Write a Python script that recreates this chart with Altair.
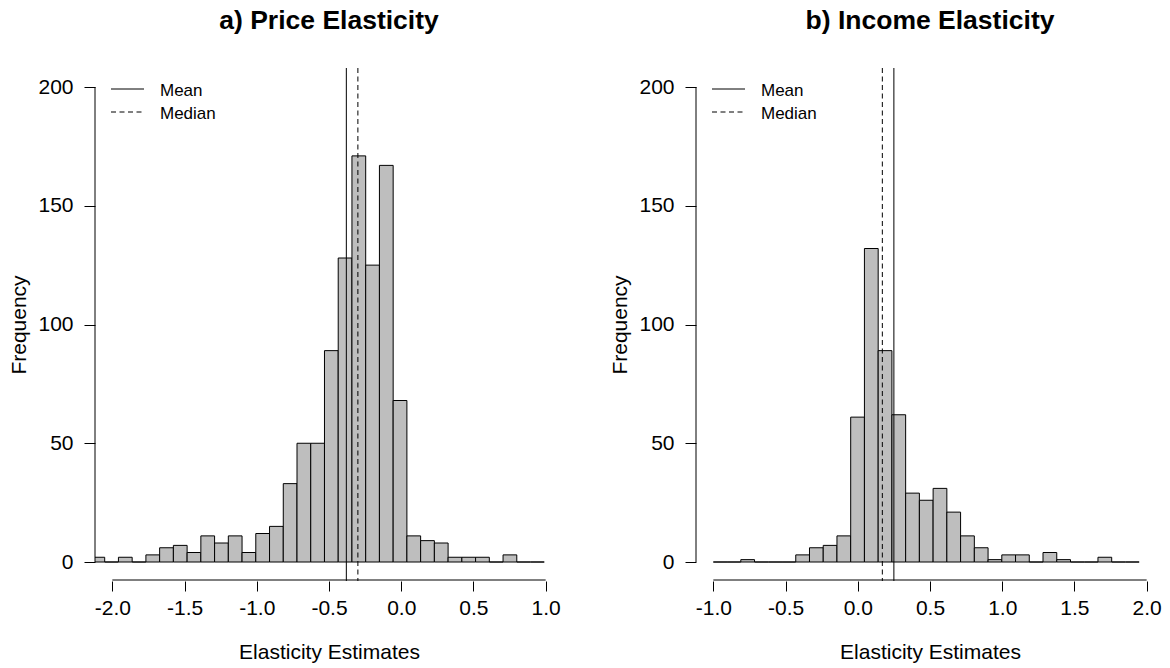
import altair as alt
import pandas as pd

FONT = "Liberation Sans"

# ---- data ----
price_counts = [2, 0, 2, 0, 3, 6, 7, 4, 11, 8, 11, 4, 12, 15, 33, 50, 50, 89, 128,
                171, 125, 167, 68, 11, 9, 8, 2, 2, 2, 0, 3, 0, 0]
price_first_break = -2.148

income_counts = [0, 0, 1, 0, 0, 0, 3, 6, 7, 11, 61, 132, 89, 62, 29, 26, 31, 21,
                 11, 6, 1, 3, 3, 0, 4, 1, 0, 0, 2, 0, 0]
income_first_break = -1.0

break_width = 0.0951

price_mean, price_median = -0.38, -0.30
income_mean, income_median = 0.25, 0.17

price_ticks = [-2.0, -1.5, -1.0, -0.5, 0.0, 0.5, 1.0]
income_ticks = [-1.0, -0.5, 0.0, 0.5, 1.0, 1.5, 2.0]
y_ticks = [0, 50, 100, 150, 200]
y_limits = [0, 200]

legend_labels = ["Mean", "Median"]

W, H = 468, 513
DASH = [5, 3.5]

label_expr = "datum.value < 0 ? '-' + format(-datum.value, '.1f') : format(datum.value, '.1f')"


def panel(title, counts, first, ticks, mean, median):
    lo = [first + i * break_width for i in range(len(counts))]
    df = pd.DataFrame({"lo": lo, "hi": [v + break_width for v in lo],
                       "base": [0] * len(counts), "count": counts})
    xmin, xmax = ticks[0], ticks[-1]
    ext = 0.04 * (xmax - xmin)
    yext = 0.04 * (y_limits[1] - y_limits[0])
    xs = alt.Scale(domain=[xmin - ext, xmax + ext], nice=False, zero=False)
    ys = alt.Scale(domain=[y_limits[0] - yext, y_limits[1] + yext], nice=False, zero=False)
    xaxis = alt.Axis(values=ticks, labelExpr=label_expr, title="Elasticity Estimates")
    yaxis = alt.Axis(values=y_ticks, title="Frequency")

    bars = alt.Chart(df).mark_rect(
        fill="#BEBEBE", stroke="black", strokeWidth=1, clip=True
    ).encode(
        x=alt.X("lo:Q", scale=xs, axis=xaxis), x2="hi:Q",
        y=alt.Y("base:Q", scale=ys, axis=yaxis), y2="count:Q",
    )

    mean_rule = alt.Chart(pd.DataFrame({"lo": [mean]})).mark_rule(
        color="black", strokeWidth=1
    ).encode(x=alt.X("lo:Q", scale=xs, axis=xaxis))
    median_rule = alt.Chart(pd.DataFrame({"lo": [median]})).mark_rule(
        color="black", strokeWidth=1, strokeDash=DASH
    ).encode(x=alt.X("lo:Q", scale=xs, axis=xaxis))

    x_line = alt.Chart(pd.DataFrame({"lo": [xmin], "hi": [xmax]})).mark_rule(
        color="black", strokeWidth=1
    ).encode(x=alt.X("lo:Q", scale=xs, axis=xaxis), x2="hi:Q", y=alt.value(H - 1))
    y_line = alt.Chart(pd.DataFrame({"base": [y_limits[0]], "count": [y_limits[1]]})).mark_rule(
        color="black", strokeWidth=1
    ).encode(y=alt.Y("base:Q", scale=ys, axis=yaxis), y2="count:Q", x=alt.value(0))

    leg = []
    for i, lab in enumerate(legend_labels):
        ypx = 21 + 23 * i
        kw = {"strokeDash": DASH} if i == 1 else {}
        leg.append(alt.Chart(pd.DataFrame({"label": [lab]})).mark_rule(
            color="black", strokeWidth=1, **kw
        ).encode(x=alt.value(16), x2=alt.value(49), y=alt.value(ypx)))
        leg.append(alt.Chart(pd.DataFrame({"label": [lab]})).mark_text(
            align="left", baseline="middle", font=FONT, fontSize=17, color="black"
        ).encode(x=alt.value(65), y=alt.value(ypx + 2), text="label:N"))

    return alt.layer(bars, mean_rule, median_rule, x_line, y_line, *leg).properties(
        width=W, height=H,
        title=alt.TitleParams(title, font=FONT, fontSize=26.5, fontWeight="bold",
                              anchor="middle", baseline="alphabetic", offset=12,
                              color="black"),
    )


left = panel("a) Price Elasticity", price_counts, price_first_break, price_ticks,
             price_mean, price_median)
right = panel("b) Income Elasticity", income_counts, income_first_break, income_ticks,
              income_mean, income_median)

chart = alt.hconcat(left, right, spacing=133, bounds="flush").resolve_scale(
    x="independent", y="independent"
).configure_view(stroke=None).configure_axis(
    labelFont=FONT, titleFont=FONT, labelFontSize=21, titleFontSize=21,
    titleFontWeight="normal", labelColor="black", titleColor="black",
    tickColor="black", tickWidth=1, domain=False, grid=False,
    labelFlush=False, labelOverlap=False,
).configure_axisX(tickSize=10, labelPadding=6, titlePadding=23).configure_axisY(
    tickSize=11, labelPadding=11, titlePadding=8
).properties(
    padding={"left": 8, "top": 8, "right": 5, "bottom": 5},
    background="white",
)

chart.save("out.html", embed_options={"renderer": "svg", "actions": False})
